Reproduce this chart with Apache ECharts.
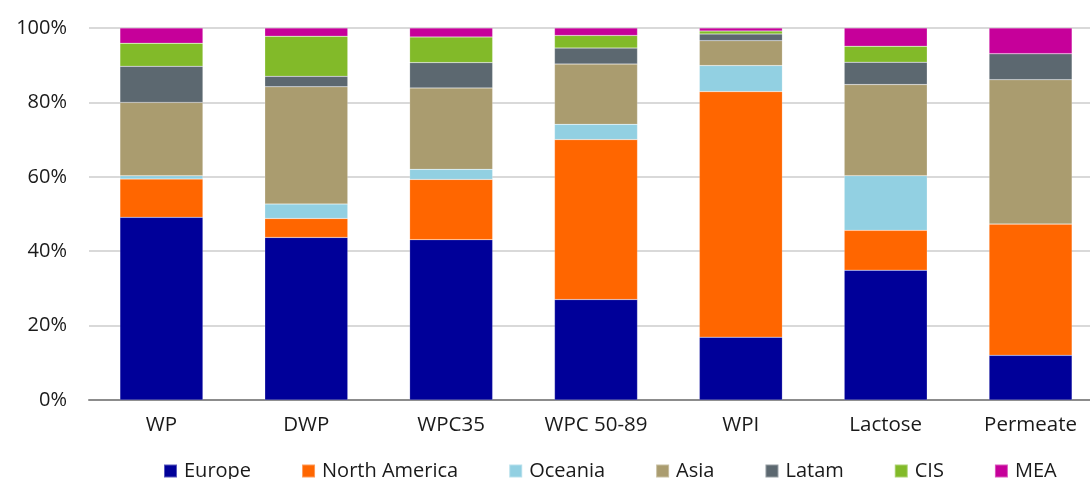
<!DOCTYPE html>
<html>
<head>
<meta charset="utf-8">
<script src="https://cdn.jsdelivr.net/npm/echarts@6/dist/echarts.min.js"></script>
<style>
  html, body { margin: 0; padding: 0; background: #ffffff; overflow: hidden; }
  /* plot runs a little past the right edge of the view */
  #chart { width: 1103px; height: 479px; }
</style>
</head>
<body>
<div id="chart"></div>
<script>
// Regional share of each whey product (percent of total)
const categories = ['WP', 'DWP', 'WPC35', 'WPC 50-89', 'WPI', 'Lactose', 'Permeate'];
const europe       = [49.1, 43.7, 43.1, 27.0, 16.9, 34.9, 12.0];
const northAmerica = [10.3,  5.1, 16.2, 43.0, 66.0, 10.7, 35.3];
const oceania      = [ 0.9,  3.9,  2.7,  4.1,  7.0, 14.7,  0.0];
const asia         = [19.7, 31.5, 21.9, 16.2,  6.7, 24.5, 38.8];
const latam        = [ 9.7,  2.8,  6.8,  4.3,  1.8,  6.0,  7.0];
const cis          = [ 6.2, 10.8,  6.9,  3.4,  0.8,  4.3,  0.0];
const mea          = [ 4.1,  2.2,  2.4,  2.0,  0.8,  4.9,  6.9];
const yTicks = [0, 20, 40, 60, 80, 100];

const seriesDefs = [
  { name: 'Europe',        data: europe,       color: '#000099' },
  { name: 'North America', data: northAmerica, color: '#FF6600' },
  { name: 'Oceania',       data: oceania,      color: '#92D0E2' },
  { name: 'Asia',          data: asia,         color: '#AA9C6F' },
  { name: 'Latam',         data: latam,        color: '#5C6870' },
  { name: 'CIS',           data: cis,          color: '#82BA29' },
  { name: 'MEA',           data: mea,          color: '#C6009A' }
];

const font = '"Open Sans", "Noto Sans", sans-serif';
const chart = echarts.init(document.getElementById('chart'), null, { renderer: 'canvas' });

chart.setOption({
  animation: false,
  backgroundColor: '#ffffff',
  grid: { left: 89, top: 28, right: 0, height: 372, containLabel: false },
  legend: {
    top: 456,
    left: 158,
    itemWidth: 13,
    itemHeight: 13,
    itemGap: 50,
    icon: 'rect',
    textStyle: { fontFamily: font, fontSize: 20, color: '#1a1a1a', padding: [0, 0, 0, 2] },
    data: seriesDefs.map(s => s.name)
  },
  xAxis: {
    type: 'category',
    data: categories,
    axisLine: { lineStyle: { color: '#8c8c8c', width: 2 } },
    axisTick: { show: false },
    axisLabel: { fontFamily: font, fontSize: 20.5, color: '#1a1a1a', margin: 15 }
  },
  yAxis: {
    type: 'value',
    min: yTicks[0],
    max: yTicks[yTicks.length - 1],
    interval: 20,
    axisLine: { show: false },
    axisTick: { show: false },
    splitLine: { lineStyle: { color: '#d9d9d9', width: 2 } },
    axisLabel: { fontFamily: font, fontSize: 20, color: '#1a1a1a', margin: 22, formatter: '{value}%' }
  },
  series: seriesDefs.map(s => ({
    name: s.name,
    type: 'bar',
    stack: 'share',
    barWidth: 83,
    data: s.data,
    itemStyle: { color: s.color, borderColor: 'rgba(255,255,255,0.35)', borderWidth: 0.5 }
  }))
});
</script>
</body>
</html>
